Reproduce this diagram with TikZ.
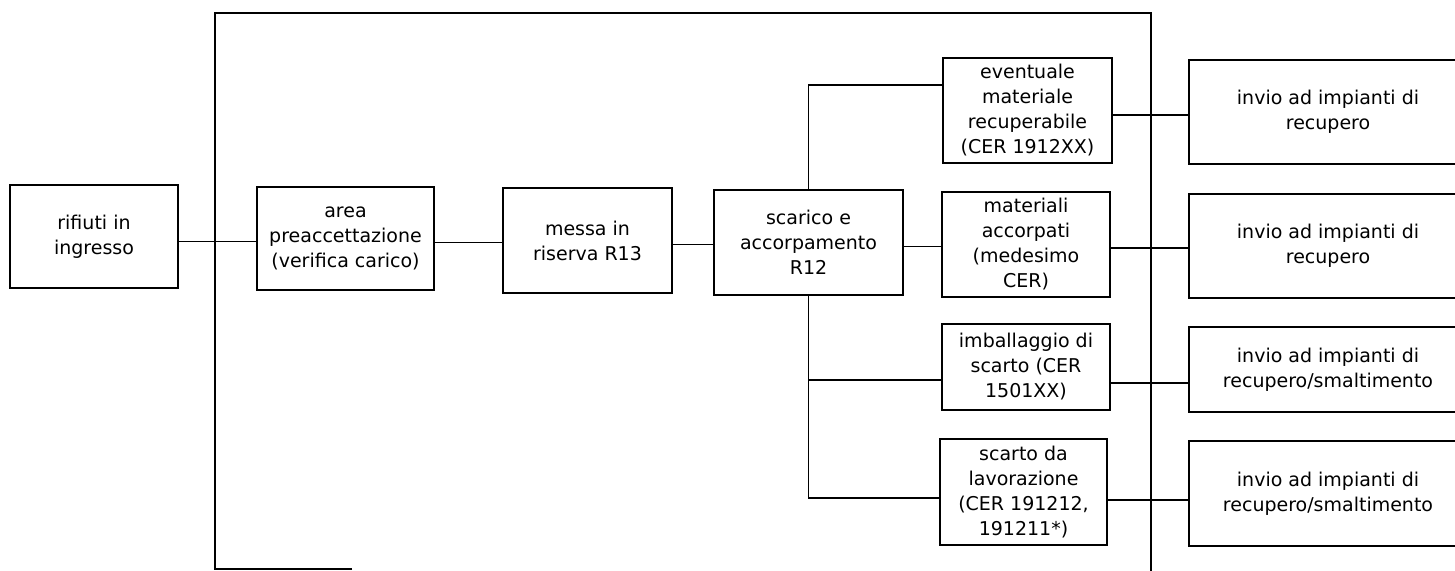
\documentclass[tikz,border=0pt]{standalone}
\usepackage{fontspec}
\setmainfont{DejaVu Sans}
\usetikzlibrary{calc}
\tikzset{
  boxnode/.style={draw, line width=0.9pt, align=center, inner sep=0pt,
    font=\fontsize{9.5pt}{12.5pt}\selectfont},
  conn/.style={line width=0.75pt},
  framecol/.style={line width=1pt}
}
\begin{document}
\begin{tikzpicture}[x=0.5pt,y=-0.5pt]
\useasboundingbox (0,0) rectangle (1455,570);
\clip (0,0) rectangle (1455,570);
\fill[white] (0,0) rectangle (1455,570);
% frame
\draw[framecol] (352,569) -- (215,569) -- (215,13) -- (1151,13) -- (1151,580);
% main chain
\node[boxnode, minimum width=84pt, minimum height=51.5pt] (rif) at (94,236.5) {rifiuti in\\ingresso};
\node[boxnode, minimum width=88.5pt, minimum height=51.5pt] (area) at (345.5,238.5) {area\\preaccettazione\\(verifica carico)};
\node[boxnode, minimum width=84.5pt, minimum height=52.5pt] (messa) at (587.5,240.5) {messa in\\riserva R13};
\node[boxnode, minimum width=94.5pt, minimum height=52.5pt] (scar) at (808.5,242.5) {scarico e\\accorpamento\\R12};
% outputs
\node[boxnode, minimum width=84.5pt, minimum height=52.5pt] (ev) at (1027.5,110.5) {eventuale\\materiale\\recuperabile\\(CER 1912XX)};
\node[boxnode, minimum width=84pt, minimum height=52.5pt] (mat) at (1026,244.5) {materiali\\accorpati\\(medesimo\\CER)};
\node[boxnode, minimum width=84pt, minimum height=43pt] (imb) at (1026,367) {imballaggio di\\scarto (CER\\1501XX)};
\node[boxnode, minimum width=83.5pt, minimum height=53pt] (sca) at (1023.5,492) {scarto da\\lavorazione\\(CER 191212,\\191211*)};
% destinations
\node[boxnode, minimum width=139pt, minimum height=52pt] (inv1) at (1328,112) {invio ad impianti di\\recupero};
\node[boxnode, minimum width=139pt, minimum height=52pt] (inv2) at (1328,246) {invio ad impianti di\\recupero};
\node[boxnode, minimum width=139pt, minimum height=42.5pt] (inv3) at (1328,369.5) {invio ad impianti di\\recupero/smaltimento};
\node[boxnode, minimum width=139pt, minimum height=52.5pt] (inv4) at (1328,493.5) {invio ad impianti di\\recupero/smaltimento};
% connectors main chain
\draw[conn] ([yshift=-2.5pt]rif.east) -- ([yshift=-2.5pt]rif.east -| area.west);
\draw[conn] ([yshift=-2pt]area.east) -- ([yshift=-2pt]area.east -| messa.west);
\draw[conn] ([yshift=-2pt]messa.east) -- ([yshift=-2pt]messa.east -| scar.west);
% branches from scarico
\draw[conn] (scar.north) |- ([yshift=12.75pt]ev.west);
\draw[conn] ([yshift=-2pt]scar.east) -- ([yshift=-2pt]scar.east -| mat.west);
\draw[conn] (scar.south) |- ([yshift=-3pt]sca.west);
\draw[conn] ([yshift=-6.5pt]imb.west) -| (scar.south);
% to destinations
\draw[conn] ([yshift=-2.25pt]ev.east) -- ([yshift=-2.25pt]ev.east -| inv1.west);
\draw[conn] ([yshift=-1.75pt]mat.east) -- ([yshift=-1.75pt]mat.east -| inv2.west);
\draw[conn] ([yshift=-8pt]imb.east) -- ([yshift=-8pt]imb.east -| inv3.west);
\draw[conn] ([yshift=-4pt]sca.east) -- ([yshift=-4pt]sca.east -| inv4.west);
\end{tikzpicture}
\end{document}
